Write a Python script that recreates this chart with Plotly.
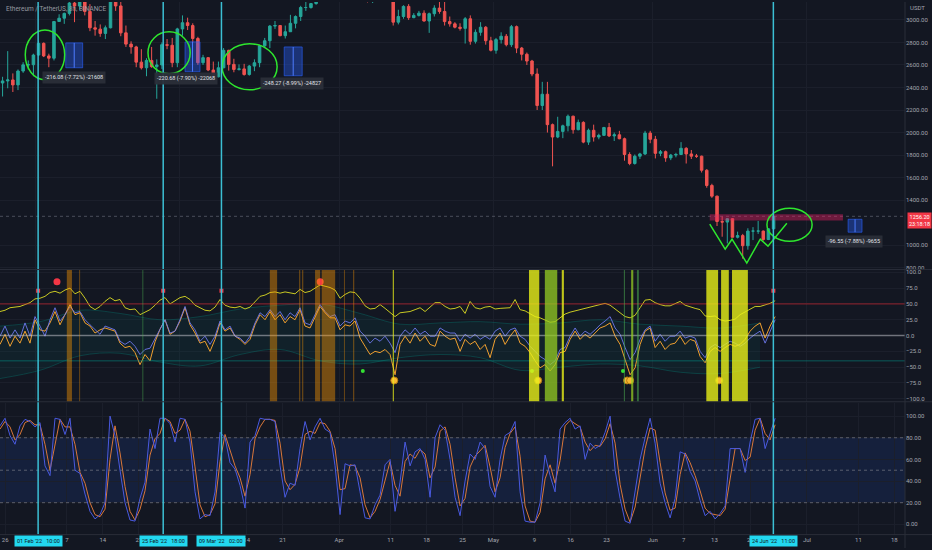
import pandas as pd
import plotly.graph_objects as go

candle_open = [2440, 2458, 2467, 2423, 2546, 2601, 2602,
               2688, 2792, 2680, 2660, 2986, 3015, 3058, 3150, 3123, 3240, 3075, 2930, 2918, 2880,
               2930, 3185, 3124, 2885, 2785, 2760, 2625, 2575, 2640, 2585, 2600, 2780, 2775, 2620,
               2920, 2975, 2950, 2835, 2620, 2665, 2555, 2495, 2575, 2730, 2605, 2560, 2565, 2515,
               2590, 2620, 2770, 2815, 2945, 2950, 2860, 2895, 2970, 3030, 3110, 3110, 3145, 3300,
               3330, 3400, 3385,
               3280, 3450, 3445, 3520, 3520, 3410, 3170, 3235, 3190, 3260, 3210, 2980, 3030, 3120,
               3020, 3040, 3060, 2990, 3055, 3105, 3075, 2985, 2965, 2935, 2925, 3010, 2810, 2890,
               2935, 2815,
               2730, 2825, 2855, 2780, 2940, 2750, 2695, 2635, 2520, 2240, 2340, 2070, 1960, 2010,
               2060, 2145, 2025, 2090, 1915, 2020, 1960, 1975, 2045, 1970, 1980, 1945, 1805, 1725,
               1790, 1810, 1995,
               1940, 1815, 1830, 1775, 1800, 1805, 1860, 1810, 1790, 1790, 1665, 1530, 1435, 1210,
               1205, 1235, 1070, 1085, 995, 1125, 1125, 1125, 1050, 1145]
candle_high = [2495, 2723, 2525, 2560, 2624, 2640, 2700,
               2815, 2800, 2700, 2990, 3050, 3065, 3195, 3170, 3260, 3280, 3140, 2990, 2960, 2950,
               3190, 3190, 3160, 2950, 2810, 2770, 2740, 2660, 2760, 2650, 2800, 2830, 2840, 2930,
               3040, 3020, 2970, 2850, 2690, 2670, 2630, 2630, 2750, 2735, 2655, 2605, 2610, 2600,
               2650, 2780, 2840, 2955, 2990, 2955, 2950, 3045, 3040, 3125, 3195, 3150, 3300, 3480,
               3480, 3445, 3450,
               3475, 3530, 3580, 3550, 3550, 3420, 3260, 3285, 3265, 3305, 3215, 3090, 3130, 3140,
               3060, 3080, 3085, 3065, 3130, 3170, 3190, 3030, 2980, 2970, 3025, 3040, 2915, 2980,
               2945, 2850,
               2840, 2890, 2875, 2955, 2950, 2760, 2710, 2645, 2570, 2450, 2450, 2080, 2140, 2070,
               2160, 2150, 2115, 2100, 2035, 2070, 1990, 2050, 2085, 2000, 2015, 1955, 1825, 1805,
               1820, 2015, 2015,
               1970, 1845, 1840, 1810, 1820, 1915, 1870, 1845, 1810, 1795, 1675, 1545, 1440, 1255,
               1240, 1240, 1120, 1100, 1150, 1160, 1215, 1130, 1150, 1260]
candle_low = [2320, 2393, 2360, 2377, 2530, 2560, 2500,
              2680, 2670, 2580, 2640, 2985, 2965, 3040, 2980, 3090, 3040, 2900, 2860, 2850, 2830,
              2925, 3080, 2855, 2760, 2700, 2580, 2560, 2500, 2575, 2300, 2565, 2740, 2580, 2580,
              2860, 2910, 2800, 2600, 2600, 2545, 2460, 2490, 2570, 2550, 2535, 2550, 2505, 2505,
              2545, 2580, 2750, 2750, 2920, 2855, 2835, 2895, 2925, 2990, 3080, 3100, 3135, 3290,
              3320, 3335, 3270,
              3210, 3440, 3420, 3405, 3405, 3155, 3150, 3170, 3185, 3200, 2950, 2960, 3010, 3000,
              3015, 3030, 2985, 2885, 3030, 3055, 2950, 2940, 2925, 2905, 2790, 2780, 2790, 2860,
              2780, 2720,
              2700, 2790, 2765, 2760, 2705, 2640, 2600, 2500, 2200, 2200, 2000, 1700, 1950, 1950,
              2010, 1990, 2020, 1905, 1890, 1920, 1940, 1970, 1960, 1925, 1940, 1750, 1710, 1715,
              1765, 1800, 1905,
              1770, 1790, 1740, 1755, 1780, 1800, 1725, 1765, 1775, 1645, 1510, 1420, 1170, 1075,
              1015, 1070, 1060, 880, 960, 1045, 1100, 1040, 1045, 1140]
candle_close = [2458, 2467, 2423, 2546, 2601, 2602, 2688,
                2792, 2680, 2660, 2986, 3015, 3058, 3150, 3123, 3240, 3075, 2930, 2918, 2880, 2930,
                3185, 3124, 2885, 2785, 2760, 2625, 2575, 2640, 2585, 2600, 2780, 2775, 2620, 2920,
                2975, 2950, 2835, 2620, 2665, 2555, 2495, 2575, 2730, 2605, 2560, 2565, 2515, 2590,
                2620, 2770, 2815, 2945, 2950, 2860, 2895, 2970, 3030, 3110, 3110, 3145, 3300, 3330,
                3400, 3385, 3280,
                3450, 3445, 3520, 3520, 3410, 3170, 3235, 3190, 3260, 3210, 2980, 3030, 3120, 3020,
                3040, 3060, 2990, 3055, 3105, 3075, 2985, 2965, 2935, 2925, 3010, 2810, 2890, 2935,
                2815, 2730,
                2825, 2855, 2780, 2940, 2750, 2695, 2635, 2520, 2240, 2340, 2070, 1960, 2010, 2060,
                2145, 2025, 2090, 1915, 2020, 1960, 1975, 2045, 1970, 1980, 1945, 1805, 1725, 1790,
                1810, 1995, 1940,
                1815, 1830, 1775, 1800, 1805, 1860, 1810, 1790, 1790, 1665, 1530, 1435, 1210, 1205,
                1235, 1070, 1085, 995, 1125, 1125, 1125, 1050, 1145, 1256]
candle_time = pd.date_range("2022-01-25 12:00", periods=len(candle_close), freq="D")

last_price = 1256.20
last_price_text = "1256.20<br>23:18:18"

# oscillator pane (sampled about every 5 px of the chart)
osc_yellow = [38, 40, 44, 45, 46, 49, 52, 58, 59, 62, 68, 70, 67, 72, 75, 66, 70, 59, 46, 41,
              46, 54, 60, 55, 57, 44, 41, 42, 33, 37, 41, 48, 56, 60, 50, 55, 60, 62, 57, 48,
              44, 40, 39, 45, 57, 48, 45, 44, 46, 42, 45, 53, 62, 64, 68, 69, 67, 69, 68, 66,
              73, 68, 70, 75, 80, 78, 76, 72, 59, 65, 69, 68, 59, 47, 42, 43, 49, 43, 36, 30,
              36, 37, 38, 41, 44, 38, 45, 52, 52, 46, 42, 43, 46, 35, 54, 44, 42, 45, 46, 42,
              43, 44, 44, 57, 41, 39, 34, 30, 28, 24, 21, 22, 28, 34, 37, 39, 41, 43, 45, 47,
              49, 51, 48, 42, 36, 30, 28, 32, 44, 56, 57, 52, 49, 47, 47, 50, 54, 48, 45, 43,
              41, 31, 30, 31, 25, 23, 24, 26, 33, 37, 42, 46, 46, 48, 51, 55]
osc_blue = [-1, 15, -4, 9, -4, 20, -1, 30, 15, -1, 25, 44, 23, 33, 46, 36, 38, 25, 17, 9,
            2, 15, 12, 9, -9, -14, -9, -17, -30, -22, -20, -5, 10, 25, 4, 7, 25, 46, 20, 9,
            -9, -1, -14, -1, 23, 9, 15, -1, -4, -12, -1, 20, 36, 30, 41, 30, 38, 25, 36, 30,
            44, 20, 17, 33, 49, 38, 30, 33, 15, 23, 20, 28, 7, -1, -12, -4, -9, -1, -12, -27,
            -1, 9, 2, 12, 2, 7, -1, -1, 12, 7, 4, 4, -9, 2, -4, 2, -6, -1, -6, 7,
            12, -1, 9, 12, -1, -6, -17, -25, -33, -38, -46, -40, -22, -19, -1, 12, -1, 7, 2, 9,
            17, 23, 30, 12, 2, -19, -38, -27, -6, 9, 15, -9, 2, -9, -1, -1, 7, -4, -1, -4,
            -25, -35, -19, -14, -19, -14, -9, -12, -17, -12, -4, 2, 7, -12, 7, 25]
osc_orange = [-14, 2, -17, -1, -12, 7, -12, 25, 9, 7, 20, 38, 17, 33, 49, 33, 36, 20, 15, 4,
              9, 12, 10, 7, -12, -19, -17, -27, -46, -30, -40, -10, 10, 25, 2, 7, 23, 44, 17, 4,
              -12, -9, -25, -6, 20, 7, 12, -1, -6, -14, -6, 17, 33, 25, 38, 25, 33, 20, 30, 25,
              41, 15, 12, 30, 46, 36, 28, 28, 9, 17, 15, 23, -4, -17, -30, -25, -27, -22, -30, -62,
              -14, -1, -12, 4, -9, -1, -14, -17, 7, -1, -6, -4, -25, -6, -14, -9, -22, -14, -35, -6,
              4, -14, -1, 9, -12, -17, -27, -40, -51, -46, -56, -46, -27, -25, -6, 7, -6, 2, -4, 4,
              12, 15, 20, -1, -14, -38, -62, -51, -14, 7, 12, -19, -9, -22, -14, -12, -1, -14, -6, -9,
              -33, -43, -25, -19, -25, -19, -14, -17, -14, -6, 7, 15, 20, -4, 15, 30]
osc_time = pd.date_range("2022-01-25", periods=len(osc_blue), freq="1401min")

band_upper = [15, 22, 40, 35, 25, 30, 42, 48, 50, 35, 18, 20, 22, 18, 20, 25, 18, 15, 12, 20]
band_lower = [-68, -55, -32, -28, -42, -48, -30, -22, -40, -45, -35, -30, -35, -55, -50, -45,
              -48, -58, -60, -50]
band_time = pd.date_range("2022-01-25", periods=len(band_upper), freq="11208min")

# signal dots in the oscillator pane
red_big_time = ["2022-02-05 02:00", "2022-03-28 07:00"]
red_big_val = [85, 85]
red_small_time = ["2022-02-01 10:00", "2022-02-25 18:00", "2022-03-09 02:00", "2022-06-24 11:00"]
red_small_val = [71, 71, 71, 71]
gold_time = ["2022-04-11 17:00", "2022-05-09 17:00", "2022-05-27 00:00", "2022-05-27 14:00",
             "2022-06-13 22:00"]
gold_val = [-71, -71, -71, -71, -71]
green_time = ["2022-04-05 14:00", "2022-05-08 12:00", "2022-05-26 05:00"]
green_val = [-56, -56, -56]

# highlighted bars in the oscillator pane
hl_start = ["2022-02-07 00:00", "2022-02-09 10:00", "2022-03-18 12:00", "2022-03-24 05:00",
            "2022-03-24 19:00", "2022-03-27 07:00", "2022-03-28 14:00", "2022-04-01 22:00",
            "2022-04-03 17:00", "2022-05-07 22:00", "2022-05-11 00:00", "2022-05-14 07:00",
            "2022-06-11 10:00", "2022-06-14 07:00", "2022-06-16 10:00", "2022-02-21 17:00",
            "2022-05-26 09:00", "2022-05-27 19:00", "2022-05-28 22:00", "2022-04-11 10:00"]
hl_end = ["2022-02-08 00:00", "2022-02-09 14:00", "2022-03-19 22:00", "2022-03-24 10:00",
          "2022-03-25 00:00", "2022-03-28 07:00", "2022-03-31 05:00", "2022-04-02 02:00",
          "2022-04-03 22:00", "2022-05-09 22:00", "2022-05-13 10:00", "2022-05-14 17:00",
          "2022-06-13 17:00", "2022-06-15 19:00", "2022-06-19 12:00", "2022-02-21 21:00",
          "2022-05-26 14:00", "2022-05-28 05:00", "2022-05-29 07:00", "2022-04-11 15:00"]
hl_kind = ["orange"] * 9 + ["yellow", "lime", "yellow", "yellow", "yellow", "yellow",
                            "green", "green", "lime", "green", "yellow"]

# stochastic pane
stoch_k = [91, 98, 82, 74, 91, 97, 95, 90, 94, 54, 45, 98, 97, 83, 98, 50, 47, 28, 12, 5,
           9, 20, 100, 82, 50, 20, 4, 3, 24, 39, 88, 70, 98, 98, 93, 76, 98, 97, 76, 30,
           5, 9, 8, 30, 85, 80, 57, 51, 36, 15, 76, 82, 98, 97, 97, 95, 54, 25, 38, 36,
           70, 95, 78, 90, 98, 88, 85, 54, 9, 56, 54, 55, 30, 6, 5, 18, 27, 55, 60, 12,
           39, 76, 54, 67, 70, 60, 25, 80, 92, 87, 60, 25, 8, 40, 65, 60, 76, 70, 35, 25,
           60, 82, 85, 95, 30, 3, 2, 2, 20, 64, 45, 30, 88, 94, 98, 88, 91, 60, 75, 70,
           73, 85, 100, 50, 24, 3, 1, 30, 60, 80, 98, 75, 38, 20, 6, 24, 67, 65, 49, 40,
           22, 8, 12, 5, 10, 17, 70, 70, 70, 48, 76, 97, 98, 70, 85, 98]
stoch_d = [88, 95, 90, 78, 83, 94, 96, 92, 92, 74, 50, 72, 97, 90, 90, 74, 48, 38, 20, 9,
           7, 14, 60, 91, 66, 35, 12, 4, 14, 31, 64, 79, 84, 98, 95, 84, 87, 97, 86, 53,
           18, 7, 9, 19, 58, 83, 68, 54, 43, 26, 46, 79, 90, 97, 97, 96, 75, 40, 32, 37,
           53, 83, 86, 84, 94, 93, 86, 70, 32, 33, 55, 54, 43, 18, 6, 12, 23, 41, 58, 36,
           26, 58, 65, 61, 69, 65, 43, 53, 86, 90, 74, 43, 17, 24, 53, 63, 68, 73, 53, 30,
           43, 71, 84, 90, 63, 17, 3, 2, 11, 42, 55, 38, 59, 91, 96, 93, 90, 76, 68, 73,
           72, 79, 93, 75, 37, 14, 2, 16, 45, 70, 89, 87, 57, 29, 13, 15, 46, 66, 57, 45,
           31, 15, 10, 9, 8, 14, 44, 70, 70, 59, 62, 87, 98, 84, 78, 92]

# drawings on the price pane
cursor_time = ["2022-02-01 10:00", "2022-02-25 18:00", "2022-03-09 02:00", "2022-06-24 11:00"]
cursor_text = ["01 Feb '22\u2002 10:00", "25 Feb '22\u2002 18:00",
               "09 Mar '22\u2002 02:00", "24 Jun '22\u2002 11:00"]
box_start = ["2022-02-06 19:00", "2022-03-02 00:00", "2022-03-21 07:00", "2022-07-09 00:00"]
box_end = ["2022-02-10 02:00", "2022-03-04 22:00", "2022-03-24 19:00", "2022-07-11 17:00"]
box_top = [2796, 2805, 2760, 1230]
box_bottom = [2575, 2540, 2504, 1115]
measure_time = ["2022-02-08 10:00", "2022-03-02 05:00", "2022-03-22 19:00", "2022-07-10 02:00"]
measure_price = [2487, 2478, 2434, 1035]
measure_text = ["-216.08 (-7.72%) -21608", "-220.68 (-7.90%) -22068",
                "-248.27 (-8.99%) -24827", "-96.55 (-7.88%) -9655"]
zone_start, zone_end = "2022-06-12 02:00", "2022-07-08 00:00"
zone_top, zone_bottom = 1274, 1220
ring_x0 = ["2022-01-29 22:00", "2022-02-22 19:00", "2022-03-09 05:00", "2022-06-23 05:00"]
ring_x1 = ["2022-02-06 14:00", "2022-03-03 00:00", "2022-03-19 22:00", "2022-07-02 00:00"]
ring_y0 = [2469, 2522, 2380, 1035]
ring_y1 = [2911, 2894, 2788, 1327]
w_time = ["2022-06-12 02:00", "2022-06-15 02:00", "2022-06-16 10:00", "2022-06-19 07:00",
          "2022-06-21 22:00", "2022-06-23 10:00", "2022-06-27 02:00"]
w_price = [1186, 965, 1053, 841, 1053, 991, 1195]

price_ticks = [800, 1000, 1400, 1600, 1800, 2000, 2200, 2400, 2600, 2800, 3000]
osc_ticks = [-100, -75, -50, -25, 0, 25, 50, 75, 100]
stoch_ticks = [0, 20, 40, 60, 80, 100]
date_ticks = ["2022-01-26", "2022-02-07", "2022-02-14", "2022-02-21", "2022-03-14",
              "2022-03-21", "2022-04-01", "2022-04-11", "2022-04-18", "2022-04-25",
              "2022-05-01", "2022-05-09", "2022-05-16", "2022-05-23", "2022-06-01",
              "2022-06-07", "2022-06-13", "2022-06-20", "2022-07-01", "2022-07-11", "2022-07-18"]
date_labels = ["26", "7", "14", "21", "14", "21", "Apr", "11", "18", "25", "May", "9",
               "16", "23", "Jun", "7", "13", "20", "Jul", "11", "18"]

BG = "#131722"
GRID = "#1b1f2b"
AXIS_TXT = "#a3a6af"
CYAN = "#3bbfd4"
FONT = "Roboto"
XR = 905 / 932
hl_colors = {"orange": "rgba(255,152,0,0.42)", "yellow": "rgba(232,240,24,0.8)",
             "lime": "rgba(150,205,35,0.75)", "green": "rgba(76,175,80,0.55)"}

fig = go.Figure()

fig.add_trace(go.Candlestick(
    x=candle_time, open=candle_open, high=candle_high, low=candle_low, close=candle_close,
    increasing=dict(line=dict(color="#26a69a", width=1), fillcolor="#26a69a"),
    decreasing=dict(line=dict(color="#ef5350", width=1), fillcolor="#ef5350"),
    whiskerwidth=0, xaxis="x", yaxis="y"))
fig.add_trace(go.Scatter(x=w_time, y=w_price, mode="lines", xaxis="x", yaxis="y",
                         line=dict(color="#2ee62e", width=1.5)))

# oscillator
fig.add_trace(go.Scatter(x=band_time, y=band_upper, mode="lines", xaxis="x2", yaxis="y2",
                         line=dict(color="rgba(0,150,136,0.3)", width=1, shape="spline")))
fig.add_trace(go.Scatter(x=band_time, y=band_lower, mode="lines", xaxis="x2", yaxis="y2",
                         fill="tonexty", fillcolor="rgba(0,150,136,0.08)",
                         line=dict(color="rgba(0,150,136,0.3)", width=1, shape="spline")))
fig.add_trace(go.Scatter(x=osc_time, y=osc_yellow, mode="lines", xaxis="x2", yaxis="y2",
                         line=dict(color="#c9c923", width=1)))
fig.add_trace(go.Scatter(x=osc_time, y=osc_orange, mode="lines", xaxis="x2", yaxis="y2",
                         line=dict(color="#f0a030", width=1)))
fig.add_trace(go.Scatter(x=osc_time, y=osc_blue, mode="lines", xaxis="x2", yaxis="y2",
                         line=dict(color="rgba(110,120,235,0.9)", width=1)))
fig.add_trace(go.Scatter(x=red_big_time, y=red_big_val, mode="markers", xaxis="x2", yaxis="y2",
                         marker=dict(color="#f23645", size=7)))
fig.add_trace(go.Scatter(x=red_small_time, y=red_small_val, mode="markers", xaxis="x2", yaxis="y2",
                         marker=dict(color="#f23645", size=4, symbol="square")))
fig.add_trace(go.Scatter(x=gold_time, y=gold_val, mode="markers", xaxis="x2", yaxis="y2",
                         marker=dict(color="#f7b733", size=7, line=dict(color="#b07a10", width=1))))
fig.add_trace(go.Scatter(x=green_time, y=green_val, mode="markers", xaxis="x2", yaxis="y2",
                         marker=dict(color="#33e033", size=4)))

# stochastic
fig.add_trace(go.Scatter(x=osc_time, y=stoch_d, mode="lines", xaxis="x3", yaxis="y3",
                         line=dict(color="#d9773a", width=1)))
fig.add_trace(go.Scatter(x=osc_time, y=stoch_k, mode="lines", xaxis="x3", yaxis="y3",
                         line=dict(color="#4a5ae0", width=1)))

shapes = []
# stoch band and levels
shapes.append(dict(type="rect", xref="x3 domain", yref="y3", x0=0, x1=1, y0=20, y1=80,
                   fillcolor="rgba(41,98,255,0.12)", line_width=0, layer="below"))
for lv in [20, 50, 80]:
    shapes.append(dict(type="line", xref="x3 domain", yref="y3", x0=0, x1=1, y0=lv, y1=lv,
                       line=dict(color="rgba(120,123,134,0.7)", width=1, dash="3px,3px")))
# oscillator levels
shapes.append(dict(type="line", xref="x2 domain", yref="y2", x0=0, x1=1, y0=50, y1=50,
                   line=dict(color="rgba(190,35,45,0.75)", width=1)))
shapes.append(dict(type="line", xref="x2 domain", yref="y2", x0=0, x1=1, y0=0, y1=0,
                   line=dict(color="rgba(200,200,205,0.5)", width=1.5)))
shapes.append(dict(type="line", xref="x2 domain", yref="y2", x0=0, x1=1, y0=-40, y1=-40,
                   line=dict(color="rgba(0,150,136,0.55)", width=1)))
for s, e, k in zip(hl_start, hl_end, hl_kind):
    shapes.append(dict(type="rect", xref="x2", yref="y2 domain", x0=s, x1=e, y0=0, y1=1,
                       fillcolor=hl_colors[k], line_width=0))
# price pane drawings
shapes.append(dict(type="line", xref="x domain", yref="y", x0=0, x1=1, y0=last_price,
                   y1=last_price, line=dict(color="rgba(120,123,134,0.55)", width=1, dash="dot")))
shapes.append(dict(type="rect", xref="x", yref="y", x0=zone_start, x1=zone_end,
                   y0=zone_bottom, y1=zone_top, fillcolor="rgba(233,30,99,0.42)", line_width=0))
for s, e, t, b in zip(box_start, box_end, box_top, box_bottom):
    shapes.append(dict(type="rect", xref="x", yref="y", x0=s, x1=e, y0=b, y1=t,
                       fillcolor="rgba(41,98,255,0.38)", line=dict(color="rgba(41,98,255,0.6)", width=1)))
    mid = pd.Timestamp(s) + (pd.Timestamp(e) - pd.Timestamp(s)) / 2
    shapes.append(dict(type="line", xref="x", yref="y", x0=mid, x1=mid, y0=b, y1=t,
                       line=dict(color="#4d7cff", width=1)))
for a, b, c, d in zip(ring_x0, ring_x1, ring_y0, ring_y1):
    shapes.append(dict(type="circle", xref="x", yref="y", x0=a, x1=b, y0=c, y1=d,
                       line=dict(color="#2ee62e", width=1.5)))
# cursor lines
for t in cursor_time:
    shapes.append(dict(type="line", xref="x", yref="paper", x0=t, x1=t, y0=0.0245, y1=1,
                       line=dict(color=CYAN, width=1.5)))
# pane borders
for yy in [1 - 269.5 / 550, 1 - 402.7 / 550, 0.0245]:
    shapes.append(dict(type="line", xref="paper", yref="paper", x0=0, x1=1, y0=yy, y1=yy,
                       line=dict(color="#2a2e39", width=1)))
shapes.append(dict(type="line", xref="paper", yref="paper", x0=XR, x1=XR, y0=0, y1=1,
                   line=dict(color="#2a2e39", width=1)))

annotations = []
annotations.append(dict(text="Ethereum / TetherUS, 8h, BINANCE", xref="paper", yref="paper",
                        x=0.004, y=1 - 7 / 550, xanchor="left", yanchor="middle", showarrow=False,
                        font=dict(size=6.5, color="#9598a1", family=FONT)))
annotations.append(dict(text="USDT", xref="paper", yref="paper", x=908 / 932, y=1 - 6 / 550,
                        xanchor="left", yanchor="middle", showarrow=False,
                        font=dict(size=6, color=AXIS_TXT, family=FONT)))
annotations.append(dict(text=last_price_text, xref="paper", yref="y", x=1, y=last_price,
                        xanchor="right", yanchor="top", yshift=4, showarrow=False,
                        bgcolor="#f23645", borderpad=1,
                        font=dict(size=5.5, color="#ffffff", family=FONT)))
for t, p, txt in zip(measure_time, measure_price, measure_text):
    annotations.append(dict(text=txt, xref="x", yref="y", x=t, y=p, showarrow=False,
                            bgcolor="rgba(42,46,57,0.95)", borderpad=2,
                            font=dict(size=5.5, color="#e0e3eb", family=FONT)))
for t, txt in zip(cursor_time, cursor_text):
    annotations.append(dict(text=txt, xref="x", yref="paper", x=t, y=1 - 542.5 / 550,
                            yanchor="middle", showarrow=False, bgcolor="#22d8f0", borderpad=2,
                            font=dict(size=5.5, color="#131722", family=FONT)))

ax_common = dict(showgrid=True, gridcolor=GRID, zeroline=False, showline=False,
                 domain=[0, XR], range=["2022-01-25 00:00", "2022-07-20 01:40"], type="date")
y_common = dict(side="right", showgrid=True, gridcolor=GRID, zeroline=False, showline=False,
                ticks="", tickfont=dict(size=6, color=AXIS_TXT, family=FONT), fixedrange=True)

fig.update_layout(
    width=932, height=550, margin=dict(l=0, r=0, t=0, b=0),
    paper_bgcolor=BG, plot_bgcolor=BG, showlegend=False, hovermode=False,
    xaxis=dict(**ax_common, anchor="y", showticklabels=False, rangeslider=dict(visible=False)),
    xaxis2=dict(**ax_common, anchor="y2", matches="x", showticklabels=False),
    xaxis3=dict(**ax_common, anchor="y3", matches="x", tickvals=date_ticks, ticktext=date_labels,
                tickfont=dict(size=6, color=AXIS_TXT, family=FONT), ticks=""),
    yaxis=dict(**y_common, anchor="x", domain=[1 - 269 / 550, 1], range=[788, 3159],
               tickvals=price_ticks, tickformat=".2f"),
    yaxis2=dict(**y_common, anchor="x2", domain=[1 - 402.7 / 550, 1 - 270 / 550],
                range=[-104.7, 103.6], tickvals=osc_ticks, tickformat=".1f"),
    yaxis3=dict(**y_common, anchor="x3", domain=[0.0245, 1 - 403.5 / 550],
                range=[-9.5, 112.5], tickvals=stoch_ticks, tickformat=".2f"),
    shapes=shapes, annotations=annotations,
)

fig.write_html("out.html", config={"displayModeBar": False},
               post_script="document.body.style.margin='0';")
